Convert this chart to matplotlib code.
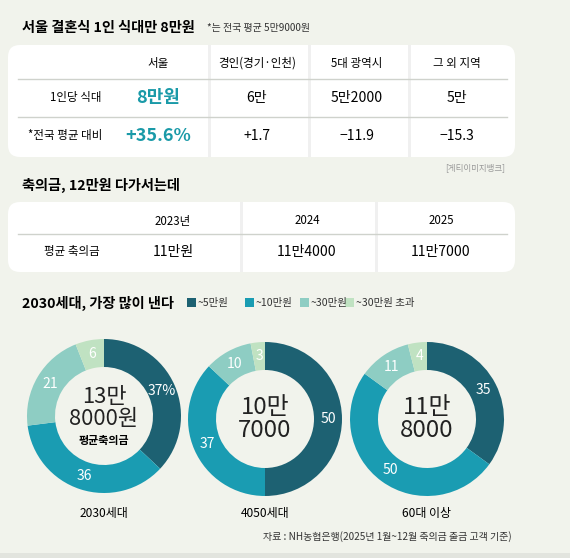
import matplotlib
matplotlib.use("Agg")
from matplotlib import pyplot as plt
from matplotlib.patches import FancyBboxPatch, Rectangle

plt.rcParams['font.family'] = ['Noto Sans CJK KR', 'DejaVu Sans']

# data
regions = ["서울", "경인(경기·인천)", "5대 광역시", "그 외 지역"]
meal_price = ["8만원", "6만", "5만2000", "5만"]
vs_national = ["+35.6%", "+1.7", "-11.9", "-15.3"]

years = ["2023년", "2024", "2025"]
gift_avg = ["11만원", "11만4000", "11만7000"]

brackets = ["~5만원", "~10만원", "~30만원", "~30만원 초과"]
groups = ["2030세대", "4050세대", "60대 이상"]
shares = [[37, 36, 21, 6], [50, 37, 10, 3], [35, 50, 11, 4]]
group_avg = ["13만\n8000원", "10만\n7000", "11만\n8000"]

BG = "#f1f3ec"
TEAL = "#1a9aa8"
COLORS = ["#1d6172", "#1a9cb2", "#8ecdc3", "#c0e2c2"]

W, H = 570, 558
fig = plt.figure(figsize=(W / 100, H / 100), dpi=100, facecolor=BG)
ax = fig.add_axes([0, 0, 1, 1])
ax.set_xlim(0, W)
ax.set_ylim(H, 0)
ax.axis("off")

def px(s):
    return s * 0.72

# section 1
ax.text(22, 28, "서울 결혼식 1인 식대만 8만원", fontsize=px(14.2), fontweight="bold", va="center")
ax.text(207, 28, "*는 전국 평균 5만9000원", fontsize=px(10), va="center", color="#333")
ax.add_patch(FancyBboxPatch((8, 45), 507, 112, boxstyle="round,pad=0,rounding_size=12",
                            fc="white", ec="none"))
for y in (79, 117):
    ax.plot([18, 507], [y, y], color="#cfd2cc", lw=1)
for x in (208, 308, 408):
    ax.add_patch(Rectangle((x, 45), 3, 112, fc="#f0f0f0", ec="none"))
cols1 = [158, 257, 357, 457]
for i, cx in enumerate(cols1):
    ax.text(cx, 63, regions[i], ha="center", va="center", fontsize=px(11.5))
    if i == 0:
        ax.text(cx, 98, meal_price[i], ha="center", va="center", fontsize=px(18),
                fontweight="bold", color=TEAL)
        ax.text(cx, 136, vs_national[i], ha="center", va="center", fontsize=px(18),
                fontweight="bold", color=TEAL)
    else:
        ax.text(cx, 98, meal_price[i], ha="center", va="center", fontsize=px(14))
        ax.text(cx, 136, vs_national[i].replace("-", "−"), ha="center", va="center", fontsize=px(14))
ax.text(102, 98, "1인당 식대", ha="right", va="center", fontsize=px(11.5))
ax.text(102, 136, "*전국 평균 대비", ha="right", va="center", fontsize=px(11.5))
ax.text(505, 168, "[게티이미지뱅크]", ha="right", va="center", fontsize=px(8.5), color="#999")

# section 2
ax.text(22, 185, "축의금, 12만원 다가서는데", fontsize=px(14.2), fontweight="bold", va="center")
ax.add_patch(FancyBboxPatch((8, 202), 507, 70, boxstyle="round,pad=0,rounding_size=12",
                            fc="white", ec="none"))
ax.plot([18, 507], [234, 234], color="#cfd2cc", lw=1)
for x in (240, 375):
    ax.add_patch(Rectangle((x, 202), 3, 70, fc="#f0f0f0", ec="none"))
cols2 = [173, 307, 441]
for i, cx in enumerate(cols2):
    ax.text(cx, 221, years[i], ha="center", va="center", fontsize=px(11.5))
    ax.text(cx, 252, gift_avg[i], ha="center", va="center", fontsize=px(14))
ax.text(100, 252, "평균 축의금", ha="right", va="center", fontsize=px(11.5))

# section 3
ax.text(22, 303, "2030세대, 가장 많이 낸다", fontsize=px(14.2), fontweight="bold", va="center")
leg_x = [187, 245, 300, 345]
for i, lx in enumerate(leg_x):
    ax.add_patch(Rectangle((lx, 298), 9, 9, fc=COLORS[i], ec="none"))
    ax.text(lx + 11, 303, brackets[i], fontsize=px(10.5), va="center", color="#333")

centers = [(104, 416), (265, 419), (427, 419)]
R, R_in = 77, 49
for g, (cx, cy) in enumerate(centers):
    dax = fig.add_axes([(cx - R) / W, 1 - (cy + R) / H, 2 * R / W, 2 * R / H])
    labels = [str(v) for v in shares[g]]
    if g == 0:
        labels[0] = "37%"
    dax.pie(shares[g], colors=COLORS, startangle=90, counterclock=False, radius=1,
            wedgeprops=dict(width=(R - R_in) / R, edgecolor="none"),
            labels=labels, labeldistance=(R + R_in) / 2 / R,
            textprops=dict(color="white", fontsize=px(14), ha="center", va="center"))
    dax.set_aspect("auto")
    dax.set_xlim(-1, 1)
    dax.set_ylim(-1, 1)
    if g == 0:
        ax.text(cx, cy - 8, group_avg[g], ha="center", va="center", fontsize=px(22),
                linespacing=1.0, color="#222")
        ax.text(cx, cy + 25, "평균축의금", ha="center", va="center", fontsize=px(11),
                fontweight="bold")
    else:
        ax.text(cx, cy, group_avg[g], ha="center", va="center", fontsize=px(24),
                linespacing=1.0, color="#222")
    ax.text(cx, 513, groups[g], ha="center", va="center", fontsize=px(12))

ax.text(512, 537, "자료 : NH농협은행(2025년 1월~12월 축의금 출금 고객 기준)", ha="right",
        va="center", fontsize=px(10), color="#333")
ax.add_patch(Rectangle((0, 553), W, 5, fc="#e2e4de", ec="none"))

fig.savefig("out.png", dpi=100, facecolor=BG)
